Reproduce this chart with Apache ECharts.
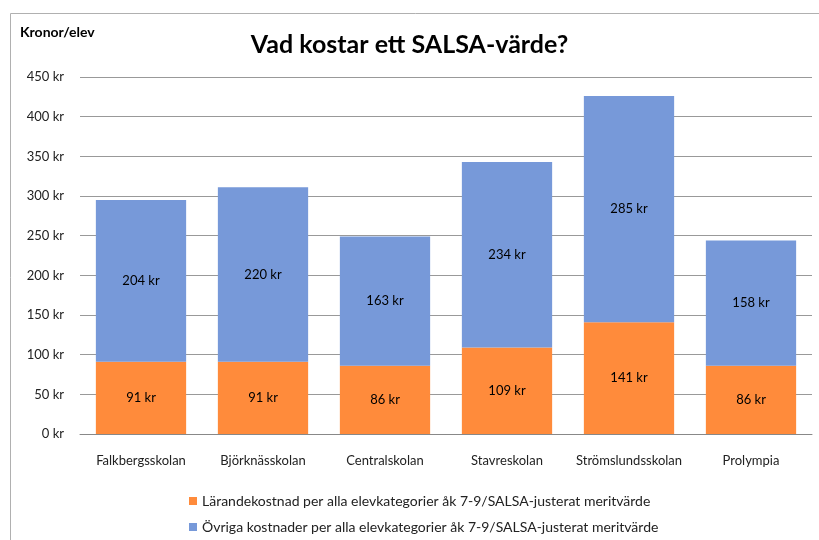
<!DOCTYPE html>
<html><head><meta charset="utf-8">
<script src="https://cdn.jsdelivr.net/npm/echarts@6/dist/echarts.min.js"></script>
<style>html,body{margin:0;padding:0;background:#fff}#c{width:819px;height:540px}</style>
</head><body><div id="c"></div>
<script>
const categories = ['Falkbergsskolan','Björknässkolan','Centralskolan','Stavreskolan','Strömslundsskolan','Prolympia'];
const larandeValues = [91, 91, 86, 109, 141, 86];
const ovrigaValues = [204, 220, 163, 234, 285, 158];
const seriesNames = ['Lärandekostnad per alla elevkategorier åk 7-9/SALSA-justerat meritvärde','Övriga kostnader per alla elevkategorier åk 7-9/SALSA-justerat meritvärde'];
const FONT = 'Lato, "Open Sans", sans-serif';
const chart = echarts.init(document.getElementById('c'), null, {renderer:'canvas'});
const lbl = {show:true, position:'inside', formatter: p => p.value + ' kr', color:'#000', fontFamily:FONT, fontSize:13};
chart.setOption({
  animation:false,
  textStyle:{fontFamily:FONT},
  graphic:[{type:'rect', shape:{x:10.5,y:13.5,width:900,height:700}, style:{fill:'none', stroke:'#b0b0b0', lineWidth:1}, z:-1}],
  title:[
    {text:'Vad kostar ett SALSA-värde?', left:'center', top:27, textStyle:{fontFamily:FONT, fontWeight:'bold', fontSize:25, color:'#000'}},
    {text:'Kronor/elev', left:15, top:20, textStyle:{fontFamily:FONT, fontWeight:'bold', fontSize:14, color:'#000'}}
  ],
  grid:{left:80, right:7, top:77, bottom:106, containLabel:false},
  legend:{orient:'vertical', left:184, top:489, itemGap:12, itemWidth:8, itemHeight:8, icon:'rect',
    textStyle:{fontFamily:FONT, fontSize:14, color:'#222'}, data:seriesNames},
  xAxis:{type:'category', data:categories, axisTick:{show:false},
    axisLine:{lineStyle:{color:'#888', width:1}},
    axisLabel:{interval:0, fontFamily:FONT, fontSize:13, color:'#222', margin:20}},
  yAxis:{type:'value', min:0, max:450, interval:50,
    axisLine:{show:false}, axisTick:{show:false},
    splitLine:{lineStyle:{color:'#999', width:1}},
    axisLabel:{formatter: v => v + ' kr', fontFamily:FONT, fontSize:13, color:'#222', margin:16}},
  series:[
    {name:seriesNames[0], type:'bar', stack:'t', data:larandeValues, barWidth:'74%', itemStyle:{color:'#FF8B3B'}, label:lbl},
    {name:seriesNames[1], type:'bar', stack:'t', data:ovrigaValues, barWidth:'74%', itemStyle:{color:'#7799D9'}, label:lbl}
  ]
});
</script></body></html>
